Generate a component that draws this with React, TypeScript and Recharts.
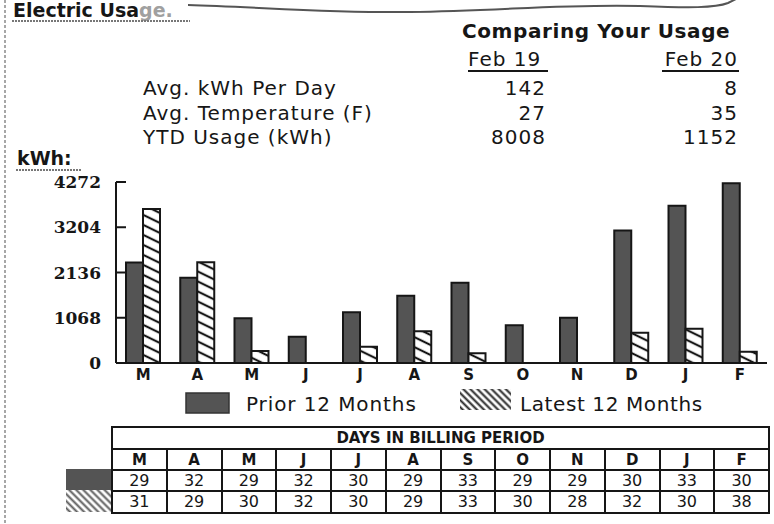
import { BarChart, Bar, XAxis, YAxis } from 'recharts';

// monthly kWh (Mar .. Feb)
const months = ['M', 'A', 'M', 'J', 'J', 'A', 'S', 'O', 'N', 'D', 'J', 'F'];
const priorKwh = [2370, 2010, 1055, 620, 1195, 1590, 1895, 890, 1070, 3130, 3710, 4240];
const latestKwh = [3635, 2375, 285, 0, 385, 750, 230, 0, 0, 715, 810, 265];
const kwhTicks = [0, 1068, 2136, 3204, 4272];

// days in billing period table
const priorDays = [29, 32, 29, 32, 30, 29, 33, 29, 29, 30, 33, 30];
const latestDays = [31, 29, 30, 32, 30, 29, 33, 30, 28, 32, 30, 38];

// "Comparing Your Usage" block
const statLabels = ['Avg. kWh Per Day', 'Avg. Temperature (F)', 'YTD Usage (kWh)'];
const feb19Values = ['142', '27', '8008'];
const feb20Values = ['8', '35', '1152'];

const data = months.map((m, i) => ({ month: m, prior: priorKwh[i], latest: latestKwh[i] }));

const SANS = '"DejaVu Sans", Verdana, sans-serif';
const SERIF = '"DejaVu Serif", "Liberation Serif", serif';
const INK = '#161616';
const PRIOR_FILL = '#545454';

// ticks sit inside the plot (to the right of the axis line), labels on the left
function YTick(props: any) {
  const { x, y, payload } = props;
  return (
    <g>
      {payload.value > 0 && <line x1={x} x2={x + 10} y1={y} y2={y} stroke={INK} strokeWidth={2} />}
      <text
        x={x - 15}
        y={y}
        dy="0.36em"
        textAnchor="end"
        fontFamily={SERIF}
        fontWeight={700}
        fontSize={17}
        fill={INK}
      >
        {payload.value}
      </text>
    </g>
  );
}

const statText = { fontFamily: SANS, fontSize: 20, letterSpacing: 1, fill: INK };

export default function App() {
  const cell = {
    borderLeft: `2px solid ${INK}`,
    borderTop: `2px solid ${INK}`,
    textAlign: 'center' as const,
    padding: 0,
    lineHeight: '18px',
  };

  return (
    <div
      style={{
        position: 'absolute',
        left: 0,
        top: 0,
        width: 774,
        height: 524,
        background: '#fff',
        overflow: 'hidden',
        fontFamily: SANS,
        color: INK,
      }}
    >
      <svg width={0} height={0} style={{ position: 'absolute' }}>
        <defs>
          <pattern id="barHatch" patternUnits="userSpaceOnUse" width={14} height={10} patternTransform="skewY(26)">
            <rect width={14} height={10} fill="#fff" />
            <line x1={0} x2={14} y1={5} y2={5} stroke={INK} strokeWidth={2.4} />
          </pattern>
          <pattern id="fineHatch" patternUnits="userSpaceOnUse" width={5} height={5} patternTransform="rotate(45)">
            <rect width={5} height={5} fill="#fff" />
            <line x1={0} x2={5} y1={2.5} y2={2.5} stroke="#222" strokeWidth={2} />
          </pattern>
        </defs>
      </svg>

      <BarChart
        width={774}
        height={400}
        data={data}
        margin={{ top: 182, right: 7, bottom: 7, left: 0 }}
        barSize={17}
        barGap={0}
        style={{ position: 'absolute', left: 0, top: 0 }}
      >
        <XAxis
          dataKey="month"
          interval={0}
          height={30}
          axisLine={{ stroke: INK, strokeWidth: 2 }}
          tickLine={false}
          tickSize={0}
          tickMargin={6}
          tick={{ fill: INK, fontSize: 15, fontWeight: 700, fontFamily: SANS }}
        />
        <YAxis
          type="number"
          domain={[0, 4272]}
          ticks={kwhTicks}
          interval={0}
          width={116}
          axisLine={{ stroke: INK, strokeWidth: 2 }}
          tickLine={false}
          tickSize={0}
          tickMargin={0}
          tick={<YTick />}
        />
        <Bar dataKey="prior" fill={PRIOR_FILL} stroke={INK} strokeWidth={2} isAnimationActive={false} />
        <Bar dataKey="latest" fill="url(#barHatch)" stroke={INK} strokeWidth={2} isAnimationActive={false} />
      </BarChart>

      <svg width={774} height={524} style={{ position: 'absolute', left: 0, top: 0, pointerEvents: 'none' }}>
        {/* left edge of the scanned page and the torn top border */}
        <line x1={5} x2={5} y1={0} y2={524} stroke="#8a8a8a" strokeWidth={1.5} strokeDasharray="3 2" />
        <path
          d="M188,5 C260,7 330,13 410,12 C500,11 560,4 640,6 C690,8 715,8 728,3 L738,-2"
          fill="none"
          stroke="#555"
          strokeWidth={2}
        />

        <text x={13} y={17} fontFamily={SANS} fontWeight={700} fontSize={19} fill={INK}>
          Electric Usa<tspan fill="#a0a0a0">ge.</tspan>
        </text>
        <line x1={12} x2={190} y1={21} y2={21} stroke="#777" strokeWidth={2} strokeDasharray="2 1" />

        <text x={462} y={38} fontFamily={SANS} fontWeight={700} fontSize={20} letterSpacing={0.6} fill={INK}>
          Comparing Your Usage
        </text>
        <text x={468} y={66} {...statText}>Feb 19</text>
        <line x1={468} x2={548} y1={71} y2={71} stroke={INK} strokeWidth={2} />
        <text x={738} y={66} textAnchor="end" {...statText}>Feb 20</text>
        <line x1={662} x2={739} y1={71} y2={71} stroke={INK} strokeWidth={2} />

        {statLabels.map((label, i) => (
          <g key={label}>
            <text x={143} y={95 + i * 24.5} {...statText}>{label}</text>
            <text x={546} y={95 + i * 24.5} textAnchor="end" {...statText}>{feb19Values[i]}</text>
            <text x={738} y={95 + i * 24.5} textAnchor="end" {...statText}>{feb20Values[i]}</text>
          </g>
        ))}

        <text x={17} y={165} fontFamily={SANS} fontWeight={700} fontSize={19} fill={INK}>
          kWh:
        </text>
        <line x1={16} x2={82} y1={170} y2={170} stroke="#777" strokeWidth={2} strokeDasharray="2 1" />

        {/* legend */}
        <rect x={186} y={393} width={43} height={20} fill={PRIOR_FILL} stroke="#333" strokeWidth={1.5} />
        <text x={246} y={411} fontFamily={SANS} fontSize={20} letterSpacing={0.9} fill={INK}>Prior 12 Months</text>
        <rect x={460} y={389} width={51} height={21} fill="url(#fineHatch)" />
        <text x={520} y={411} fontFamily={SANS} fontSize={20} letterSpacing={0.6} fill={INK}>Latest 12 Months</text>

        {/* row keys for the days table */}
        <rect x={66} y={469} width={45} height={21} fill={PRIOR_FILL} />
        <rect x={66} y={490} width={45} height={22} fill="url(#fineHatch)" opacity={0.75} />
      </svg>

      <table
        style={{
          position: 'absolute',
          left: 111,
          top: 426,
          width: 659,
          height: 86,
          borderCollapse: 'collapse',
          tableLayout: 'fixed',
          border: `2px solid ${INK}`,
          fontFamily: SANS,
          color: INK,
        }}
      >
        <tbody>
          <tr style={{ height: 22 }}>
            <td colSpan={12} style={{ ...cell, fontWeight: 700, fontSize: 15 }}>
              DAYS IN BILLING PERIOD
            </td>
          </tr>
          <tr style={{ height: 21 }}>
            {months.map((m, i) => (
              <td key={i} style={{ ...cell, fontWeight: 700, fontSize: 15 }}>{m}</td>
            ))}
          </tr>
          <tr style={{ height: 21 }}>
            {priorDays.map((d, i) => (
              <td key={i} style={{ ...cell, fontSize: 16 }}>{d}</td>
            ))}
          </tr>
          <tr style={{ height: 22 }}>
            {latestDays.map((d, i) => (
              <td key={i} style={{ ...cell, fontSize: 16 }}>{d}</td>
            ))}
          </tr>
        </tbody>
      </table>
    </div>
  );
}
